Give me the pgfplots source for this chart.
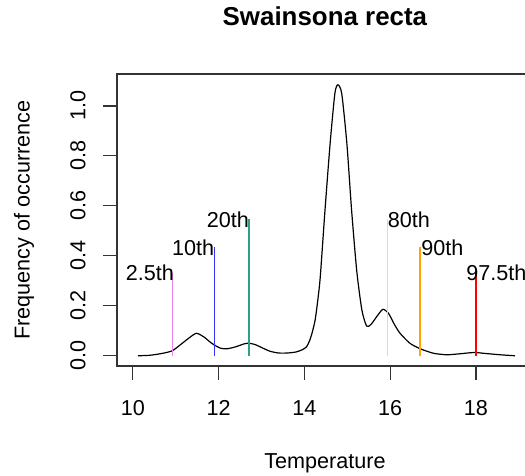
\documentclass[border=0pt]{standalone}
\usepackage{fontspec}
\setmainfont{Liberation Sans}
\usepackage{pgfplots}
\pgfplotsset{compat=1.18}
\definecolor{pviolet}{HTML}{EE82EE}
\definecolor{pblue}{HTML}{3333FF}
\definecolor{pteal}{HTML}{2E9E8E}
\definecolor{pyellow}{HTML}{F5F500}
\definecolor{porange}{HTML}{FFA500}
\definecolor{pred}{HTML}{FF0000}
\newcommand{\rfont}{\fontsize{21.6}{26}\selectfont}

% density curve
\pgfplotstableread{
x y
10.12 0.000
10.40 0.002
10.70 0.010
10.92 0.020
11.10 0.043
11.30 0.070
11.48 0.090
11.65 0.076
11.80 0.055
11.90 0.043
12.05 0.030
12.20 0.028
12.40 0.036
12.60 0.048
12.71 0.050
12.85 0.045
13.00 0.033
13.20 0.018
13.40 0.011
13.60 0.011
13.80 0.015
13.95 0.024
14.05 0.036
14.12 0.060
14.18 0.092
14.25 0.143
14.31 0.220
14.37 0.316
14.48 0.583
14.60 0.851
14.71 1.050
14.78 1.085
14.87 1.050
14.99 0.850
15.10 0.583
15.22 0.340
15.34 0.183
15.45 0.119
15.55 0.125
15.70 0.160
15.83 0.186
15.96 0.170
16.10 0.125
16.23 0.090
16.46 0.050
16.70 0.028
17.01 0.010
17.32 0.004
17.63 0.008
17.86 0.012
18.00 0.013
18.17 0.010
18.56 0.004
18.91 0.000
}\densitydata

\begin{document}
\begin{tikzpicture}
\begin{axis}[scale only axis,width=416pt,height=292pt,
  xmin=9.63,xmax=19.33,ymin=-0.041,ymax=1.128,
  xtick={10,12,14,16,18},ytick={0,0.2,0.4,0.6,0.8,1.0},
  tick pos=left,tick align=outside,major tick length=14pt,
  axis line style={draw=black!80,line width=1.1pt},
  every tick/.style={draw=black!80,line width=1.1pt},
  /pgf/number format/assume math mode=true,
  yticklabel style={/pgf/number format/fixed,/pgf/number format/zerofill,
    /pgf/number format/precision=1},
  tick label style={font=\rfont},
  xticklabel style={anchor=center,yshift=-28pt},
  yticklabel style={anchor=center,xshift=-25pt,rotate=90},
  title={\textbf{Swainsona recta}},
  title style={at={([yshift=52pt]axis description cs:0.5,1)},anchor=center,
    font=\fontsize{25.9}{30}\selectfont},
  xlabel={Temperature},
  xlabel style={at={([yshift=-97pt]axis description cs:0.5,0)},anchor=center,font=\rfont},
  ylabel={Frequency of occurrence},
  ylabel style={at={([xshift=-93pt]axis description cs:0,0.5)},anchor=center,font=\rfont},
  clip=false]
\addplot[black,line width=1.2pt,smooth,tension=0.4] table {\densitydata};
\addplot[pviolet,line width=1.5pt] coordinates {(10.92,0) (10.92,0.331)};
\addplot[pblue,line width=1.5pt] coordinates {(11.90,0) (11.90,0.434)};
\addplot[pteal,line width=1.5pt] coordinates {(12.71,0) (12.71,0.546)};
\addplot[pyellow,line width=1.6pt] coordinates {(15.94,0) (15.94,0.546)};
\addplot[porange,line width=1.5pt] coordinates {(16.70,0) (16.70,0.434)};
\addplot[pred,line width=1.5pt] coordinates {(18.00,0) (18.00,0.331)};
\node[anchor=east,inner sep=0pt,font=\rfont] at (axis cs:10.96,0.331) {2.5th};
\node[anchor=east,inner sep=0pt,font=\rfont] at (axis cs:11.90,0.434) {10th};
\node[anchor=east,inner sep=0pt,font=\rfont] at (axis cs:12.71,0.546) {20th};
\node[anchor=west,inner sep=0pt,font=\rfont] at (axis cs:15.94,0.546) {80th};
\node[anchor=west,inner sep=0pt,font=\rfont] at (axis cs:16.72,0.434) {90th};
\node[anchor=west,inner sep=0pt,font=\rfont] at (axis cs:17.77,0.331) {97.5th};
\coordinate (sw) at (rel axis cs:0,0);
\end{axis}
\pgfresetboundingbox
\useasboundingbox ([shift={(-117pt,-109pt)}]sw) rectangle ([shift={(408pt,366pt)}]sw);
\end{tikzpicture}
\end{document}
